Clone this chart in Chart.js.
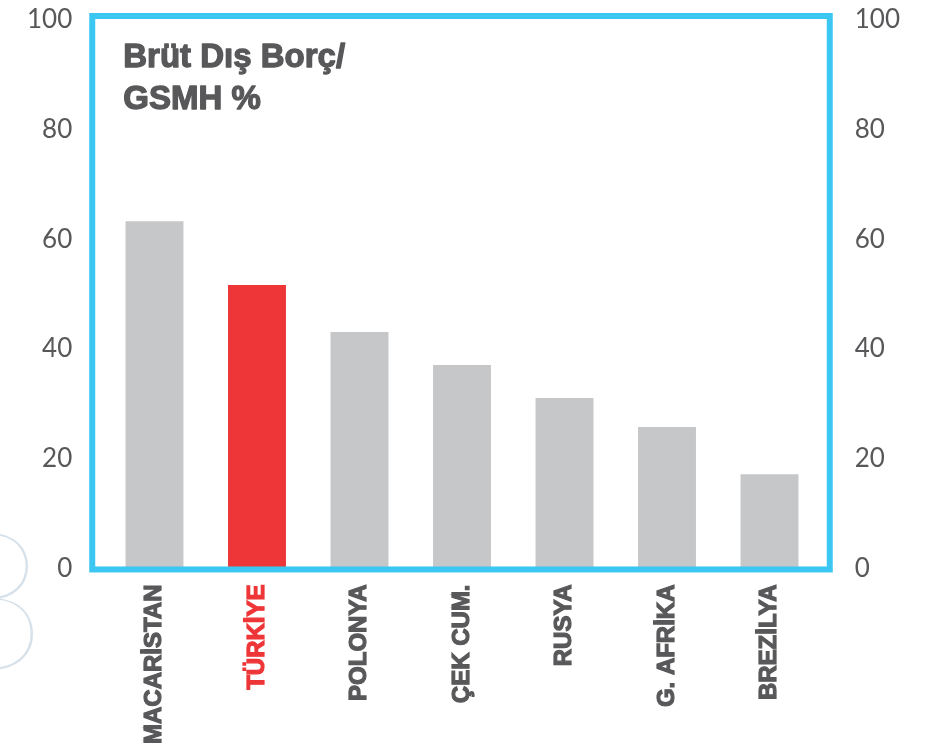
<!DOCTYPE html>
<html lang="tr">
<head>
<meta charset="utf-8">
<title>Brüt Dış Borç / GSMH %</title>
<script src="https://cdn.jsdelivr.net/npm/chart.js@4/dist/chart.umd.min.js"></script>
<style>
  html, body { margin: 0; padding: 0; background: #fff; }
  #wrap { position: relative; width: 937px; height: 751px; overflow: hidden; }
</style>
</head>
<body>
<div id="wrap"><canvas id="borcChart"></canvas></div>
<script>
// data
const countries = ["MACARİSTAN", "TÜRKİYE", "POLONYA", "ÇEK CUM.", "RUSYA", "G. AFRİKA", "BREZİLYA"];
const debtRatio = [63.3, 51.7, 43.1, 37.1, 31.1, 25.8, 17.2];
const yTicks = [0, 20, 40, 60, 80, 100];
const titleLines = ["Brüt Dış Borç/", "GSMH %"];

const GREY_BAR = "#c6c7c9";
const RED = "#ee3537";
const TEXT = "#58585a";
const FRAME = "#3bc7f2";

const barColors = countries.map((c, i) => i === 1 ? RED : GREY_BAR);
const labelColor = c => c.index === 1 ? RED : TEXT;

// chart.js counts tick padding twice when sizing an axis, take one back
// and drop the extra space it reserves above/below the value axes
function trimAxis(s) {
  const pad = s.options.ticks.padding;
  if (s.isHorizontal()) {
    s.height -= pad;
  } else {
    s.width -= pad;
    s.paddingTop = 0;
    s.paddingBottom = 0;
  }
}

// light page number in the corner + blue frame + title inside it
const decor = {
  id: "decor",
  beforeDraw(chart) {
    const ctx = chart.ctx;
    ctx.save();
    ctx.fillStyle = "#d6e1ea";
    ctx.font = "100 190px Lato";
    ctx.textBaseline = "alphabetic";
    ctx.fillText("8", -64, 668);
    ctx.restore();
  },
  afterDatasetsDraw(chart) {
    const { ctx, chartArea: a } = chart;
    ctx.save();
    ctx.strokeStyle = FRAME;
    ctx.lineWidth = 6;
    ctx.strokeRect(a.left - 11, a.top - 4, a.right - a.left + 20, a.bottom - a.top + 5);

    ctx.fillStyle = TEXT;
    ctx.strokeStyle = TEXT;
    ctx.lineWidth = 1.3;
    ctx.lineJoin = "round";
    ctx.font = "bold 33px 'Liberation Sans'";
    ctx.textBaseline = "alphabetic";
    titleLines.forEach((t, i) => {
      const x = a.left + 20, y = a.top + 47 + i * 42;
      ctx.fillText(t, x, y);
      ctx.strokeText(t, x, y);
    });
    ctx.restore();
  }
};

const ctx = document.getElementById("borcChart").getContext("2d");
const myChart = new Chart(ctx, {
  type: "bar",
  data: {
    labels: countries,
    datasets: [{
      data: debtRatio,
      backgroundColor: barColors,
      borderWidth: 0,
      barPercentage: 0.565,
      categoryPercentage: 1
    }]
  },
  options: {
    responsive: true,
    maintainAspectRatio: false,
    animation: false,
    layout: { padding: { left: 27, right: 37, top: 20, bottom: 7 } },
    plugins: { legend: { display: false }, tooltip: { enabled: false } },
    scales: {
      x: {
        afterFit: trimAxis,
        grid: { display: false, drawTicks: false },
        border: { display: false },
        ticks: {
          autoSkip: false,
          minRotation: 90,
          maxRotation: 90,
          padding: 16,
          color: labelColor,
          textStrokeColor: labelColor,
          textStrokeWidth: 1.2,
          font: { family: "'Liberation Sans'", size: 24, weight: "bold" }
        }
      },
      y: {
        position: "left",
        min: 0,
        max: 100,
        afterBuildTicks: s => { s.ticks = yTicks.map(v => ({ value: v })); },
        afterFit: trimAxis,
        grid: { display: false, drawTicks: false },
        border: { display: false },
        ticks: {
          padding: 31,
          color: TEXT,
          font: { family: "Lato", size: 26, weight: "normal" }
        }
      },
      y2: {
        position: "right",
        min: 0,
        max: 100,
        afterBuildTicks: s => { s.ticks = yTicks.map(v => ({ value: v })); },
        afterFit: trimAxis,
        grid: { display: false, drawTicks: false },
        border: { display: false },
        ticks: {
          padding: 34,
          color: TEXT,
          font: { family: "Lato", size: 26, weight: "normal" }
        }
      }
    }
  },
  plugins: [decor]
});
</script>
</body>
</html>
